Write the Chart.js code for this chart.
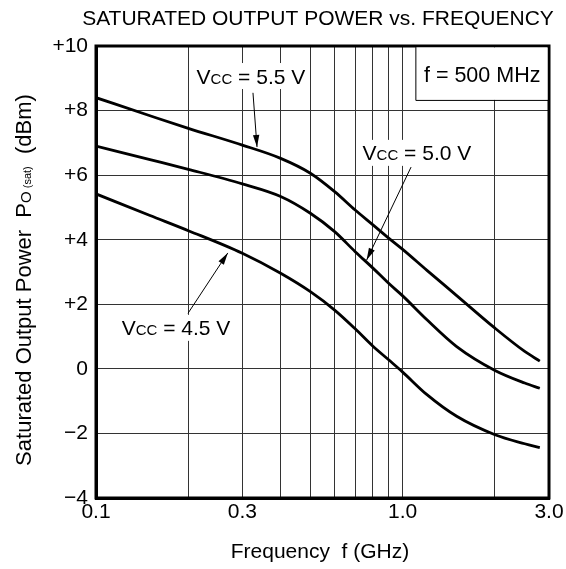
<!DOCTYPE html>
<html lang="en">
<head>
<meta charset="UTF-8">
<title>Saturated Output Power vs. Frequency</title>
<script src="https://cdn.jsdelivr.net/npm/chart.js@4.4.1/dist/chart.umd.min.js"></script>
<style>
    html, body { margin: 0; padding: 0; background: #fff; }
    #wrap { width: 566px; height: 569px; }
</style>
</head>
<body>
<div id="wrap"><canvas id="myChart" width="566" height="569"></canvas></div>
<script>
    // frequency points (GHz)
    const freqs = [0.1, 0.15, 0.2, 0.3, 0.4, 0.5, 0.6, 0.7, 0.8, 0.9, 1.0, 1.2, 1.5, 2.0, 2.5, 2.8];
    // saturated output power (dBm)
    const vcc55 = [8.40, 7.84, 7.45, 6.93, 6.52, 6.06, 5.49, 4.92, 4.46, 4.05, 3.70, 3.05, 2.27, 1.26, 0.54, 0.24];
    const vcc50 = [6.90, 6.48, 6.18, 5.73, 5.34, 4.82, 4.25, 3.63, 3.12, 2.65, 2.26, 1.52, 0.69, -0.05, -0.44, -0.60];
    const vcc45 = [5.42, 4.75, 4.28, 3.58, 2.96, 2.39, 1.82, 1.24, 0.70, 0.28, -0.10, -0.80, -1.47, -2.04, -2.32, -2.44];

    const xGrid = [0.1, 0.2, 0.3, 0.4, 0.5, 0.6, 0.7, 0.8, 0.9, 1.0, 2.0, 3.0];
    const xLabels = { 0.1: '0.1', 0.3: '0.3', 1: '1.0', 3: '3.0' };

    const FONT = '"Liberation Sans", Arial, Helvetica, sans-serif';

    function pts(ys) {
        return freqs.map((f, i) => ({ x: f, y: ys[i] }));
    }

    function serie(ys) {
        return {
            data: pts(ys),
            borderColor: '#000',
            borderWidth: 2.8,
            pointRadius: 0,
            fill: false,
            cubicInterpolationMode: 'monotone'
        };
    }

    // "V" + small "CC" + rest, centered on (cx, cy), white box behind
    function vccText(c, txt, cx, cy) {
        c.font = '21px ' + FONT;
        const wV = c.measureText('V').width;
        const wR = c.measureText(txt).width;
        c.font = '15px ' + FONT;
        const wC = c.measureText('CC').width;
        const w = wV + wC + wR;
        let x = cx - w / 2;
        c.fillStyle = '#fff';
        c.fillRect(x - 3, cy - 13, w + 6, 26);
        c.fillStyle = '#000';
        c.textBaseline = 'alphabetic';
        c.textAlign = 'left';
        c.font = '21px ' + FONT;
        c.fillText('V', x, cy + 7.5);
        x += wV;
        c.font = '15px ' + FONT;
        c.fillText('CC', x, cy + 7.5);
        x += wC;
        c.font = '21px ' + FONT;
        c.fillText(txt, x, cy + 7.5);
    }

    function arrow(c, x1, y1, x2, y2) {
        c.strokeStyle = '#000';
        c.lineWidth = 1;
        c.beginPath();
        c.moveTo(x1, y1);
        c.lineTo(x2, y2);
        c.stroke();
        const a = Math.atan2(y2 - y1, x2 - x1);
        const L = 12, W = 3.2;
        c.fillStyle = '#000';
        c.beginPath();
        c.moveTo(x2, y2);
        c.lineTo(x2 - L * Math.cos(a) + W * Math.sin(a), y2 - L * Math.sin(a) - W * Math.cos(a));
        c.lineTo(x2 - L * Math.cos(a) - W * Math.sin(a), y2 - L * Math.sin(a) + W * Math.cos(a));
        c.closePath();
        c.fill();
    }

    const extras = {
        id: 'extras',
        afterDraw(chart) {
            const c = chart.ctx;
            const xs = chart.scales.x, ys = chart.scales.y;
            const X = v => xs.getPixelForValue(v);
            const Y = v => ys.getPixelForValue(v);
            const area = chart.chartArea;
            c.save();

            // frame round the plot
            c.strokeStyle = '#000';
            c.lineWidth = 3;
            c.strokeRect(area.left, area.top, area.right - area.left, area.bottom - area.top);

            // title
            c.fillStyle = '#000';
            c.font = '21px ' + FONT;
            c.textAlign = 'center';
            c.textBaseline = 'middle';
            c.fillText('SATURATED OUTPUT POWER vs. FREQUENCY', 318, 19);

            // x axis title
            c.fillText('Frequency  f (GHz)', 320, 552);

            // y axis title with subscript
            c.translate(31, 280);
            c.rotate(-Math.PI / 2);
            const parts = [
                ['Saturated Output Power  P', 22, 0],
                ['O', 15, 0],
                [' (sat)', 11, 0],
                ['  (dBm)', 22, 0]
            ];
            let tot = 0;
            parts.forEach(p => { c.font = p[1] + 'px ' + FONT; p[2] = c.measureText(p[0]).width; tot += p[2]; });
            let px = -tot / 2;
            c.textAlign = 'left';
            c.textBaseline = 'alphabetic';
            parts.forEach(p => {
                c.font = p[1] + 'px ' + FONT;
                c.fillText(p[0], px, 0);
                px += p[2];
            });
            c.setTransform(1, 0, 0, 1, 0, 0);

            // f = 500 MHz box
            const bx = X(1.10), by = Y(8.33);
            c.fillStyle = '#fff';
            c.fillRect(bx, area.top + 1.5, area.right - bx - 1.5, by - area.top - 1.5);
            c.strokeStyle = '#000';
            c.lineWidth = 1;
            c.beginPath();
            c.moveTo(bx + 0.5, area.top);
            c.lineTo(bx + 0.5, by + 0.5);
            c.lineTo(area.right, by + 0.5);
            c.stroke();
            c.fillStyle = '#000';
            c.font = '21.5px ' + FONT;
            c.textAlign = 'center';
            c.textBaseline = 'middle';
            c.fillText('f = 500 MHz', (bx + area.right) / 2, Y(9.07));

            // curve labels + arrows
            arrow(c, X(0.325), Y(8.55), X(0.335), Y(6.87));
            vccText(c, ' = 5.5 V', X(0.320), Y(9.07));

            arrow(c, X(1.065), Y(6.25), X(0.763), Y(3.37));
            vccText(c, ' = 5.0 V', X(1.113), Y(6.69));

            arrow(c, X(0.1995), Y(1.72), X(0.269), Y(3.59));
            vccText(c, ' = 4.5 V', X(0.1823), Y(1.27));

            c.restore();
        }
    };

    const ctx = document.getElementById('myChart').getContext('2d');
    const grafico = new Chart(ctx, {
        type: 'line',
        data: {
            datasets: [serie(vcc55), serie(vcc50), serie(vcc45)]
        },
        options: {
            responsive: false,
            animation: false,
            events: [],
            layout: { padding: { top: 46, right: 17, left: 0, bottom: 0 } },
            plugins: {
                legend: { display: false },
                tooltip: { enabled: false },
                title: { display: false }
            },
            scales: {
                x: {
                    type: 'logarithmic',
                    min: 0.1,
                    max: 3.0,
                    afterBuildTicks: s => { s.ticks = xGrid.map(v => ({ value: v })); },
                    afterFit: s => { s.height = 71; },
                    ticks: {
                        autoSkip: false,
                        maxRotation: 0,
                        padding: 2,
                        color: '#000',
                        font: { family: FONT, size: 21 },
                        callback: v => xLabels[Math.round(v * 10) / 10] || ''
                    },
                    grid: { color: '#333', lineWidth: 1, drawTicks: false },
                    border: { color: '#000', width: 3 }
                },
                y: {
                    min: -4,
                    max: 10,
                    afterFit: s => { s.width = 96; },
                    ticks: {
                        stepSize: 2,
                        padding: 8,
                        color: '#000',
                        font: { family: FONT, size: 21 },
                        callback: v => v > 0 ? '+' + v : (v < 0 ? '\u2212' + Math.abs(v) : '0')
                    },
                    grid: { color: '#333', lineWidth: 1, drawTicks: false },
                    border: { color: '#000', width: 3 }
                }
            }
        },
        plugins: [extras]
    });
</script>
</body>
</html>
